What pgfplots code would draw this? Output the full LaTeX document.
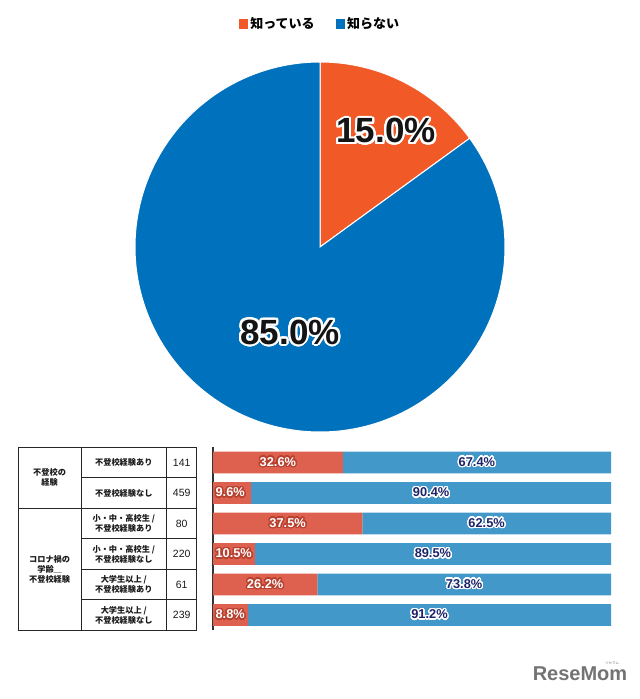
\documentclass[border=0pt]{standalone}
\usepackage{pgfplots}
\usepackage{pgfplotstable}
\pgfplotsset{compat=1.18}
\usepackage{fontspec}
\setmainfont{Liberation Sans}
\newfontfamily\jp{Noto Sans CJK JP}
\usepackage{contour}
\contournumber{32}
\definecolor{pieO}{HTML}{F15A26}
\definecolor{pieB}{HTML}{0071BC}
\definecolor{barO}{HTML}{DE614F}
\definecolor{barB}{HTML}{4298C8}
\definecolor{navy}{HTML}{1B2369}
\definecolor{dred}{HTML}{B8402F}

\pgfplotstableread{
y know notknow
0 32.6 67.4
1 9.6 90.4
2 37.5 62.5
3 10.5 89.5
4 26.2 73.8
5 8.8 91.2
}\bardata
% label positions: centre of each segment (small red ones start at the bar's left end)
\pgfplotstableread{
y x t
0 16.3 32.6
2 18.75 37.5
4 13.1 26.2
}\redC
\pgfplotstableread{
y x t
1 0.6 9.6
3 0.6 10.5
5 0.6 8.8
}\redL
\pgfplotstableread{
y x t
0 66.3 67.4
1 54.8 90.4
2 68.75 62.5
3 55.25 89.5
4 63.1 73.8
5 54.4 91.2
}\blueC
\def\pieKnow{15.0}
\def\pieNot{85.0}

\begin{document}
\begin{tikzpicture}[x=1pt,y=1pt]
\path[use as bounding box] (0,0) rectangle (640,699);

% ---------------- pie ----------------
\pgfmathsetmacro{\aO}{90-3.6*\pieKnow}
\pgfmathsetmacro{\aB}{\aO-3.6*\pieNot}
\begin{axis}[at={(135pt,267pt)}, anchor=south west, scale only axis,
  width=370pt, height=370pt, xmin=-1, xmax=1, ymin=-1, ymax=1,
  hide axis, clip=false,
  legend style={at={(0.5,1.103)}, anchor=center, draw=none, fill=none,
    font=\jp\bfseries\fontsize{13}{13.5}\selectfont,
    /tikz/every even column/.append style={column sep=19pt},
    inner sep=0pt},
  legend columns=2,
  legend image code/.code={\fill[#1,draw=none] (0pt,-4.7pt) rectangle (9.4pt,4.7pt);},
  ]
\addplot[fill=pieO, draw=white, line width=1pt, domain=\aO:90, samples=60]
  ({cos(x)},{sin(x)}) -- (0,0) -- cycle;
\addlegendentry{知っている}
\addplot[fill=pieB, draw=white, line width=1pt, domain=\aB:\aO, samples=240]
  ({cos(x)},{sin(x)}) -- (0,0) -- cycle;
\addlegendentry{知らない}
\node[text=black!92, font=\bfseries\fontsize{35}{35}\selectfont] at (axis cs:0.357,0.622) {\contourlength{2pt}\contour{white}{15.0\%}};
\node[text=black!92, font=\bfseries\fontsize{35}{35}\selectfont] at (axis cs:-0.162,-0.465) {\contourlength{2pt}\contour{white}{85.0\%}};
\end{axis}

% ---------------- bars ----------------
\begin{axis}[at={(213pt,68.75pt)}, anchor=south west, scale only axis,
  width=398pt, height=183pt, xmin=0, xmax=100, ymin=-0.5, ymax=5.5,
  y dir=reverse, xbar stacked, bar width=21.7pt,
  hide x axis, axis y line*=left, ytick=\empty,
  y axis line style={-, line width=1.2pt, black!80},
  clip=false]
\addplot[fill=barO, draw=none] table[x=know, y=y]{\bardata};
\addplot[fill=barB, draw=none] table[x=notknow, y=y]{\bardata};
\end{axis}

% ---------------- bar labels (same frame, not stacked) ----------------
\begin{axis}[at={(213pt,68.75pt)}, anchor=south west, scale only axis,
  width=398pt, height=183pt, xmin=0, xmax=100, ymin=-0.5, ymax=5.5,
  y dir=reverse, hide axis, clip=false,
  point meta=explicit symbolic, nodes near coords,
  every node near coord/.append style={inner sep=0pt, anchor=center,
    font=\bfseries\fontsize{12.8}{12.8}\selectfont}]
\addplot[only marks, mark=none, text=white,
  nodes near coords={\contourlength{1.3pt}\contour{dred}{\pgfplotspointmeta\%}}]
  table[x=x, y=y, meta=t]{\redC};
\addplot[only marks, mark=none, text=white,
  every node near coord/.append style={anchor=west},
  nodes near coords={\contourlength{1.3pt}\contour{dred}{\pgfplotspointmeta\%}}]
  table[x=x, y=y, meta=t]{\redL};
\addplot[only marks, mark=none, text=navy,
  nodes near coords={\contourlength{1.3pt}\contour{white}{\pgfplotspointmeta\%}}]
  table[x=x, y=y, meta=t]{\blueC};
\end{axis}

% ---------------- table ----------------
\begin{scope}[line width=0.8pt, black!85]
\draw (18.3,251.75) rectangle (196.7,68.75);
\draw (81,251.75) -- (81,68.75);
\draw (166.7,251.75) -- (166.7,68.75);
\draw (18.3,190.75) -- (196.7,190.75);
\foreach \yy in {221.25,160.25,129.75,99.25} \draw (81,\yy) -- (196.7,\yy);
\end{scope}
\tikzset{jt/.style={font=\jp\bfseries\fontsize{8.2}{10.2}\selectfont, align=center, inner sep=0pt, text=black!90},
         nt/.style={font=\fontsize{10.5}{10.5}\selectfont, inner sep=0pt, text=black!90}}
\node[jt] at (49.6,221.25) {不登校の\\経験};
\node[jt] at (49.6,129.75) {コロナ禍の\\学齢＿\\不登校経験};
\node[jt] at (123.8,236.5) {不登校経験あり};
\node[jt] at (123.8,206) {不登校経験なし};
\node[jt] at (123.8,175.5) {小・中・高校生 /\\不登校経験あり};
\node[jt] at (123.8,145) {小・中・高校生 /\\不登校経験なし};
\node[jt] at (123.8,114.5) {大学生以上 /\\不登校経験あり};
\node[jt] at (123.8,84) {大学生以上 /\\不登校経験なし};
\node[nt] at (181.7,236.5) {141};
\node[nt] at (181.7,206) {459};
\node[nt] at (181.7,175.5) {80};
\node[nt] at (181.7,145) {220};
\node[nt] at (181.7,114.5) {61};
\node[nt] at (181.7,84) {239};

% ---------------- watermark ----------------
\node[text=black!55, font=\bfseries\fontsize{20}{20}\selectfont, inner sep=0pt] at (580,25) {ReseMom};
\node[text=black!55, font=\jp\fontsize{3.5}{3.5}\selectfont, inner sep=0pt] at (612,36) {リセマム};
\end{tikzpicture}
\end{document}
